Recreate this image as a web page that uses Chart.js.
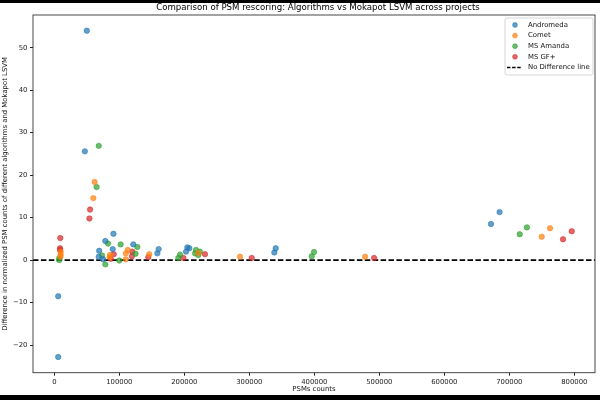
<!DOCTYPE html>
<html>
<head>
<meta charset="utf-8">
<script src="https://cdn.jsdelivr.net/npm/chart.js@4/dist/chart.umd.min.js"></script>
<style>
  html, body { margin: 0; padding: 0; background: #000; width: 600px; height: 400px; overflow: hidden; }
  #wrap { position: absolute; left: 0; top: 3px; width: 600px; height: 392px; background: #fff; }
</style>
</head>
<body>
<div id="wrap"><canvas id="psmChart" width="600" height="392"></canvas></div>
<script>
// PSM counts (x) and normalized difference vs Mokapot LSVM (y), per algorithm
const andromedaPsms = [50000, 47000, 6000, 6000, 91000, 78500, 121500, 69000, 89800, 160500, 158500, 68300, 75000, 204600, 207700, 202600, 340600, 338500, 671800, 685000];
const andromedaDiff = [54.0, 25.6, -8.5, -22.8, 6.2, 4.5, 3.7, 2.2, 2.6, 2.6, 1.6, 0.8, 0.2, 3.0, 2.8, 2.0, 2.8, 1.8, 8.5, 11.3];

const cometPsms = [62000, 60000, 9800, 9800, 9500, 85700, 85000, 113000, 110000, 110000, 146000, 221500, 285700, 478000, 749800, 762600];
const cometDiff = [18.4, 14.6, 2.0, 1.3, 0.8, 1.2, 0.7, 2.4, 1.6, 0.2, 1.4, 1.7, 0.8, 0.8, 5.5, 7.5];

const amandaPsms = [68300, 65000, 82600, 102000, 127700, 73400, 125000, 78500, 100000, 7700, 7500, 193400, 190800, 218000, 224000, 216500, 221500, 396000, 399500, 716000, 727000];
const amandaDiff = [26.9, 17.2, 3.9, 3.7, 3.1, 1.1, 1.5, -1.0, -0.1, 0.5, 0.0, 1.3, 0.5, 2.4, 2.0, 1.6, 1.2, 0.9, 1.9, 6.1, 7.7];

const gfPsms = [55000, 54000, 9200, 8800, 8800, 91400, 120000, 119500, 86800, 144600, 198500, 231800, 303700, 492000, 782600, 796000];
const gfDiff = [11.9, 9.8, 5.2, 2.8, 2.4, 1.4, 2.0, 0.9, 0.3, 0.7, 0.5, 1.4, 0.5, 0.5, 4.9, 6.8];

const xTicks = [0, 100000, 200000, 300000, 400000, 500000, 600000, 700000, 800000];
const yTicks = [-20, -10, 0, 10, 20, 30, 40, 50];
const xRange = [-32800, 831800];
const yRange = [-26.5, 57.7];

function toPoints(xs, ys) {
  return xs.map((x, i) => ({ x: x, y: ys[i] }));
}

function scatterSet(label, xs, ys, rgb) {
  return {
    type: 'scatter',
    label: label,
    data: toPoints(xs, ys),
    backgroundColor: 'rgba(' + rgb + ',0.7)',
    borderColor: 'rgba(' + rgb + ',0.7)',
    borderWidth: 0.8,
    pointRadius: 2.7,
    pointHoverRadius: 2.7
  };
}

const FONT = 'DejaVu Sans';

const framePlugin = {
  id: 'frame',
  afterDraw(chart) {
    const ctx = chart.ctx;
    const a = chart.chartArea;
    ctx.save();
    ctx.strokeStyle = '#333';
    ctx.lineWidth = 0.9;
    ctx.strokeRect(a.left, a.top, a.right - a.left, a.bottom - a.top);

    // title
    ctx.fillStyle = '#000';
    ctx.font = '8.6px "' + FONT + '"';
    ctx.textAlign = 'center';
    ctx.textBaseline = 'middle';
    ctx.fillText('Comparison of PSM rescoring: Algorithms vs Mokapot LSVM across projects', (a.left + a.right) / 2 + 4, 4.5);

    // legend
    const bx = 505, by = 15, bw = 88, bh = 57;
    ctx.fillStyle = 'rgba(255,255,255,0.8)';
    ctx.strokeStyle = '#ccc';
    ctx.lineWidth = 0.8;
    ctx.beginPath();
    ctx.roundRect(bx, by, bw, bh, 2);
    ctx.fill();
    ctx.stroke();
    ctx.font = '6.9px "' + FONT + '"';
    ctx.textAlign = 'left';
    ctx.textBaseline = 'middle';
    chart.data.datasets.forEach((ds, i) => {
      const ry = by + 7 + i * 10.6;
      if (ds.type === 'line') {
        ctx.strokeStyle = '#000';
        ctx.lineWidth = 1.5;
        ctx.setLineDash([3.5, 1.6]);
        ctx.beginPath();
        ctx.moveTo(bx + 2, ry);
        ctx.lineTo(bx + 17, ry);
        ctx.stroke();
        ctx.setLineDash([]);
      } else {
        ctx.fillStyle = ds.backgroundColor;
        ctx.strokeStyle = ds.borderColor;
        ctx.lineWidth = 0.8;
        ctx.beginPath();
        ctx.arc(bx + 10, ry, 2.4, 0, Math.PI * 2);
        ctx.fill();
        ctx.stroke();
      }
      ctx.fillStyle = '#111';
      ctx.fillText(ds.label, bx + 23, ry);
    });
    ctx.restore();
  }
};

function keepTicks(list) {
  return function (scale) {
    scale.ticks = list.map(v => ({ value: v }));
  };
}

function createChart() {
  const ctx = document.getElementById('psmChart').getContext('2d');
  new Chart(ctx, {
    data: {
      datasets: [
        scatterSet('Andromeda', andromedaPsms, andromedaDiff, '31,119,180'),
        scatterSet('Comet', cometPsms, cometDiff, '255,127,14'),
        scatterSet('MS Amanda', amandaPsms, amandaDiff, '44,160,44'),
        scatterSet('MS GF+', gfPsms, gfDiff, '214,39,40'),
        {
          type: 'line',
          label: 'No Difference line',
          data: [{ x: xRange[0], y: 0 }, { x: xRange[1], y: 0 }],
          borderColor: '#000',
          borderWidth: 1.6,
          borderDash: [5.5, 2.4],
          pointRadius: 0,
          fill: false
        }
      ]
    },
    options: {
      responsive: false,
      animation: false,
      layout: { padding: { top: 12, right: 5, left: 0, bottom: 0 } },
      plugins: {
        legend: { display: false },
        tooltip: { enabled: false }
      },
      scales: {
        x: {
          type: 'linear',
          min: xRange[0],
          max: xRange[1],
          afterBuildTicks: keepTicks(xTicks),
          afterFit(scale) { scale.height = 22.3; },
          grid: { drawOnChartArea: false, drawTicks: true, tickLength: 3, tickColor: '#222' },
          border: { display: false },
          ticks: {
            color: '#222',
            padding: 2,
            maxRotation: 0,
            font: { family: FONT, size: 6.9 },
            callback: v => String(v)
          },
          title: {
            display: true,
            text: 'PSMs counts',
            color: '#111',
            padding: { top: 0, bottom: 2 },
            font: { family: FONT, size: 6.9 }
          }
        },
        y: {
          type: 'linear',
          min: yRange[0],
          max: yRange[1],
          afterBuildTicks: keepTicks(yTicks),
          afterFit(scale) { scale.width = 33; },
          grid: { drawOnChartArea: false, drawTicks: true, tickLength: 3, tickColor: '#222' },
          border: { display: false },
          ticks: {
            color: '#222',
            padding: 2.5,
            font: { family: FONT, size: 6.9 },
            callback: v => (v < 0 ? '\u2212' + Math.abs(v) : String(v))
          },
          title: {
            display: true,
            text: 'Difference in normalized PSM counts of different algorithms and Mokapot LSVM',
            color: '#111',
            padding: { top: 1, bottom: 0 },
            font: { family: FONT, size: 6.9 }
          }
        }
      }
    },
    plugins: [framePlugin]
  });
}

window.onload = createChart;
</script>
</body>
</html>
